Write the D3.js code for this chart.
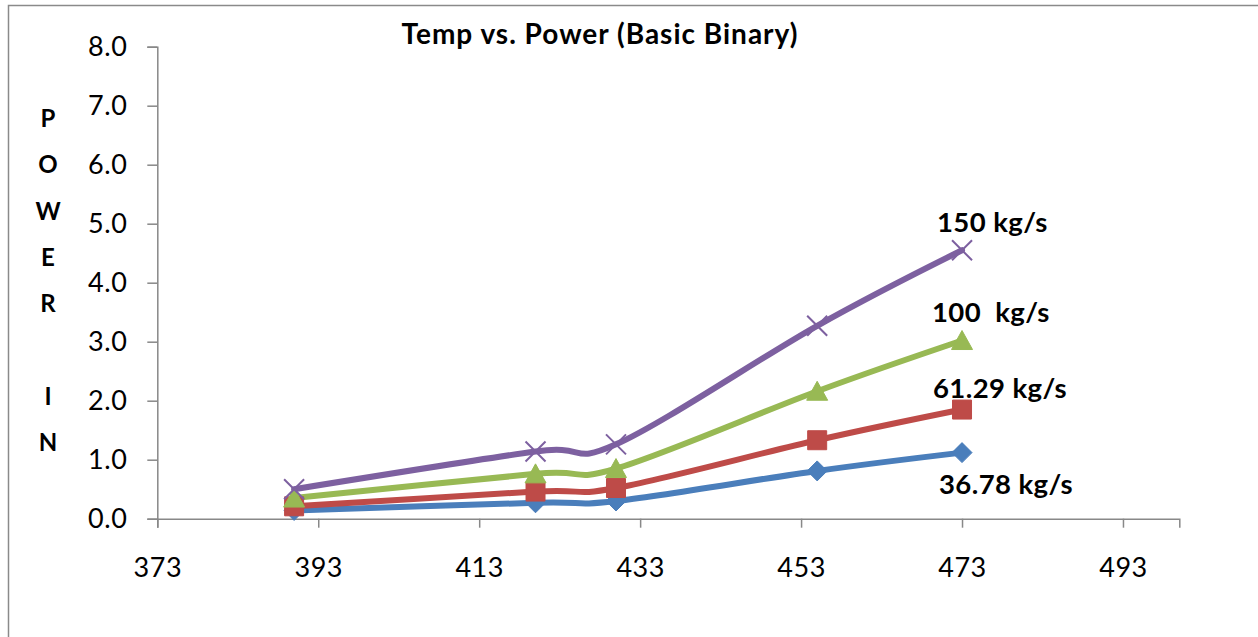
<!DOCTYPE html>
<html>
<head>
<meta charset="utf-8">
<script src="https://cdn.jsdelivr.net/npm/d3@7"></script>
<style>
  html, body { margin: 0; padding: 0; background: #fff; }
  svg { display: block; font-family: Lato, "Open Sans", sans-serif; }
</style>
</head>
<body>
<svg id="chart" width="1258" height="637"></svg>
<script>
// Temperature (K) at which power was evaluated
const temps = [390, 420, 430, 455, 473];

// Net power for each brine flow rate
const power_36_78 = [0.14, 0.27, 0.30, 0.81, 1.12];
const power_61_29 = [0.21, 0.46, 0.52, 1.33, 1.85];
const power_100   = [0.35, 0.76, 0.85, 2.16, 3.02];
const power_150   = [0.50, 1.14, 1.26, 3.27, 4.55];

const seriesNames = ["36.78 kg/s", "61.29 kg/s", "100  kg/s", "150 kg/s"];
const seriesValues = [power_36_78, power_61_29, power_100, power_150];

const xTicks = [373, 393, 413, 433, 453, 473, 493];
const yTicks = [0, 1, 2, 3, 4, 5, 6, 7, 8];

const colors  = ["#4A7EBB", "#BE4B48", "#98B954", "#7D60A0"];
const markers = ["diamond", "square", "triangle", "cross"];
// label placement relative to the last point of each series
const labelOffsets = [[-23, 41], [-29, -12], [-30, -19], [-25, -18]];

const svg = d3.select("#chart");

// outer chart frame
svg.append("rect")
  .attr("x", 8.5).attr("y", 5.5)
  .attr("width", 1262).attr("height", 700)
  .attr("fill", "none").attr("stroke", "#8a8a8a").attr("stroke-width", 1.5);

const x = d3.scaleLinear().domain([373, 500]).range([157.3, 1179.3]);
const y = d3.scaleLinear().domain([0, 8]).range([518.7, 46.7]);

// axes
const xAxis = svg.append("g")
  .attr("transform", `translate(0,${y(0)})`)
  .call(d3.axisBottom(x).tickValues(xTicks).tickSize(9).tickPadding(30).tickFormat(d3.format("d")));
const yAxis = svg.append("g")
  .attr("transform", `translate(${x(373)},0)`)
  .call(d3.axisLeft(y).tickValues(yTicks).tickSize(10).tickPadding(20).tickFormat(d3.format(".1f")));

[xAxis, yAxis].forEach(g => {
  g.select(".domain").attr("stroke", "#888").attr("stroke-width", 1.5);
  g.selectAll(".tick line").attr("stroke", "#888").attr("stroke-width", 1.5);
  g.selectAll(".tick text")
    .attr("fill", "#000")
    .style("font-family", "Lato, sans-serif")
    .style("font-size", "27px")
    .style("letter-spacing", "0.5px");
});
xAxis.selectAll(".tick text").attr("dy", "0.71em");

// lines (smoothed)
const line = d3.line()
  .x((d, i) => x(temps[i]))
  .y(d => y(d))
  .curve(d3.curveCardinal.tension(0));

seriesValues.forEach((vals, s) => {
  svg.append("path")
    .datum(vals)
    .attr("d", line)
    .attr("fill", "none")
    .attr("stroke", colors[s])
    .attr("stroke-width", 6)
    .attr("stroke-linejoin", "round")
    .attr("stroke-linecap", "round");
});

// markers
function markerPath(kind) {
  switch (kind) {
    case "diamond":  return "M0,-10L10,0L0,10L-10,0Z";
    case "square":   return "M-9.5,-9.5H9.5V9.5H-9.5Z";
    case "triangle": return "M0,-10L10.5,9L-10.5,9Z";
    case "cross":    return "M-10,-10L10,10M10,-10L-10,10";
  }
}

seriesValues.forEach((vals, s) => {
  const g = svg.append("g");
  g.selectAll("path")
    .data(vals)
    .join("path")
    .attr("transform", (d, i) => `translate(${x(temps[i])},${y(d)})`)
    .attr("d", markerPath(markers[s]))
    .attr("fill", markers[s] === "cross" ? "none" : colors[s])
    .attr("stroke", colors[s])
    .attr("stroke-width", markers[s] === "cross" ? 2 : 1);
});

// series labels at the end of each line
seriesValues.forEach((vals, s) => {
  const last = vals.length - 1;
  svg.append("text")
    .attr("x", x(temps[last]) + labelOffsets[s][0])
    .attr("y", y(vals[last]) + labelOffsets[s][1])
    .attr("font-weight", "bold")
    .attr("font-size", 27.5)
    .attr("fill", "#000")
    .style("white-space", "pre")
    .style("letter-spacing", "0.4px")
    .text(seriesNames[s]);
});

// title
svg.append("text")
  .attr("x", 600).attr("y", 44)
  .attr("text-anchor", "middle")
  .attr("font-weight", "bold")
  .attr("font-size", 28)
  .attr("fill", "#000")
  .style("letter-spacing", "1px")
  .text("Temp vs. Power (Basic Binary)");

// vertical axis caption, one letter per line
const captionLetters = ["P", "O", "W", "E", "R", "", "I", "N"];
const caption = svg.append("text")
  .attr("text-anchor", "middle")
  .attr("font-weight", "bold")
  .attr("font-size", 24)
  .attr("fill", "#000");
captionLetters.forEach((ch, i) => {
  caption.append("tspan")
    .attr("x", 48)
    .attr("y", 127 + i * 46.3)
    .text(ch);
});
</script>
</body>
</html>
